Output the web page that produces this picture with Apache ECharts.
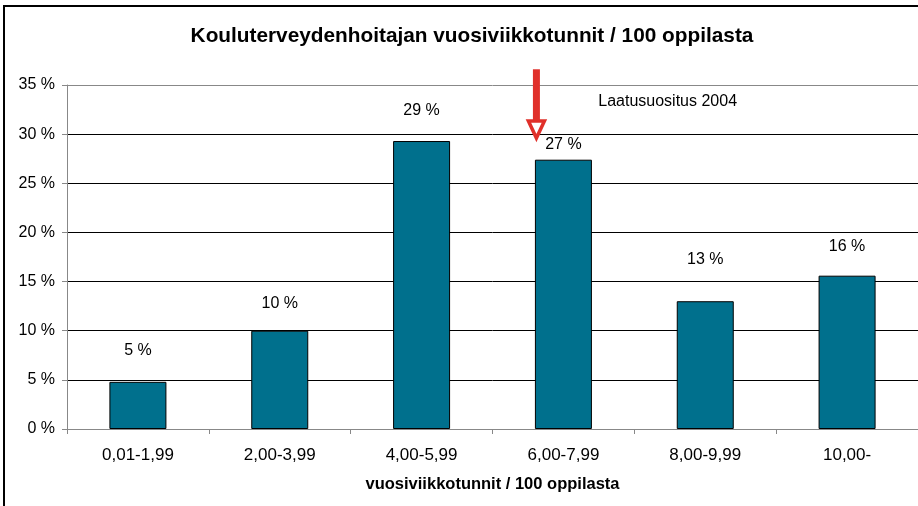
<!DOCTYPE html>
<html><head><meta charset="utf-8">
<script src="https://cdn.jsdelivr.net/npm/echarts@6/dist/echarts.min.js"></script>
<style>html,body{margin:0;padding:0;background:#fff}#c{width:918px;height:506px}</style>
</head><body><div id="c"></div>
<script>
var categories = ['0,01-1,99','2,00-3,99','4,00-5,99','6,00-7,99','8,00-9,99','10,00-'];
var values = [4.8, 10.0, 29.3, 27.4, 13.0, 15.6];
var yTicks = [0,5,10,15,20,25,30,35];
var titleText = 'Kouluterveydenhoitajan vuosiviikkotunnit / 100 oppilasta';
var xName = 'vuosiviikkotunnit / 100 oppilasta';
var noteText = 'Laatusuositus 2004';
var labelGap = [30, 26, 29, 14, 41, 28];

var chart = echarts.init(document.getElementById('c'));
var font = '"Liberation Sans", Arial, sans-serif';
chart.setOption({
  animation: false,
  title: {text: titleText, left: 467, top: 21, textAlign: 'center',
    textStyle: {fontFamily: font, fontSize: 20.8, fontWeight: 'bold', color: '#000'}},
  grid: {left: 67, right: -1, top: 85, bottom: 77, containLabel: false},
  xAxis: {type: 'category', data: categories,
    name: xName, nameLocation: 'middle', nameGap: 47,
    nameTextStyle: {fontFamily: font, fontSize: 16.5, fontWeight: 'bold', color: '#000'},
    axisLine: {lineStyle: {color: '#888'}},
    axisTick: {show: true, length: 5, lineStyle: {color: '#888'}},
    axisLabel: {fontFamily: font, fontSize: 17, color: '#000', margin: 18}},
  yAxis: {type: 'value', min: 0, max: 35, interval: 5,
    axisLine: {show: true, lineStyle: {color: '#888'}},
    axisTick: {show: true, length: 5, lineStyle: {color: '#888'}},
    axisLabel: {fontFamily: font, fontSize: 16, color: '#000', margin: 12, formatter: '{value} %'},
    splitLine: {lineStyle: {color: ['#888','#000','#000','#000','#000','#000','#000','#888'], width: 1}}},
  series: [{type: 'bar', barWidth: 57,
    data: values.map(function(v, i){
      return {value: v, label: {offset: [0, -(labelGap[i] - 12)]}};
    }),
    itemStyle: {color: '#00708d', borderColor: '#000', borderWidth: 1},
    label: {show: true, position: 'top', fontFamily: font, fontSize: 16, color: '#000',
      formatter: function(p){ return Math.round(p.value) + ' %'; }}
  }]
});

var p = chart.convertToPixel({xAxisIndex: 0, yAxisIndex: 0}, [categories[3], 0]);
var ax = p[0] - 57/2 + 1.5;
var topY = chart.convertToPixel({yAxisIndex: 0}, 36.6);
var tipY = chart.convertToPixel({yAxisIndex: 0}, 29.5);
var np = chart.convertToPixel({xAxisIndex: 0, yAxisIndex: 0}, [categories[4], 33.3]);
chart.setOption({graphic: [
  {type: 'rect', shape: {x: 4, y: 6, width: 930, height: 520}, style: {fill: null, stroke: '#000', lineWidth: 2}, silent: true},
  {type: 'line', shape: {x1: ax, y1: topY, x2: ax, y2: tipY - 17}, style: {stroke: '#e0302a', lineWidth: 7}},
  {type: 'polygon', shape: {points: [[ax - 8, tipY - 18], [ax + 8, tipY - 18], [ax, tipY - 1]]}, style: {fill: '#fff', stroke: '#e0302a', lineWidth: 3.5, lineJoin: 'miter'}},
  {type: 'text', x: np[0] - 107, y: np[1], style: {text: noteText, fontFamily: font, fontSize: 16, fill: '#000', textVerticalAlign: 'middle'}}
]});
</script></body></html>
